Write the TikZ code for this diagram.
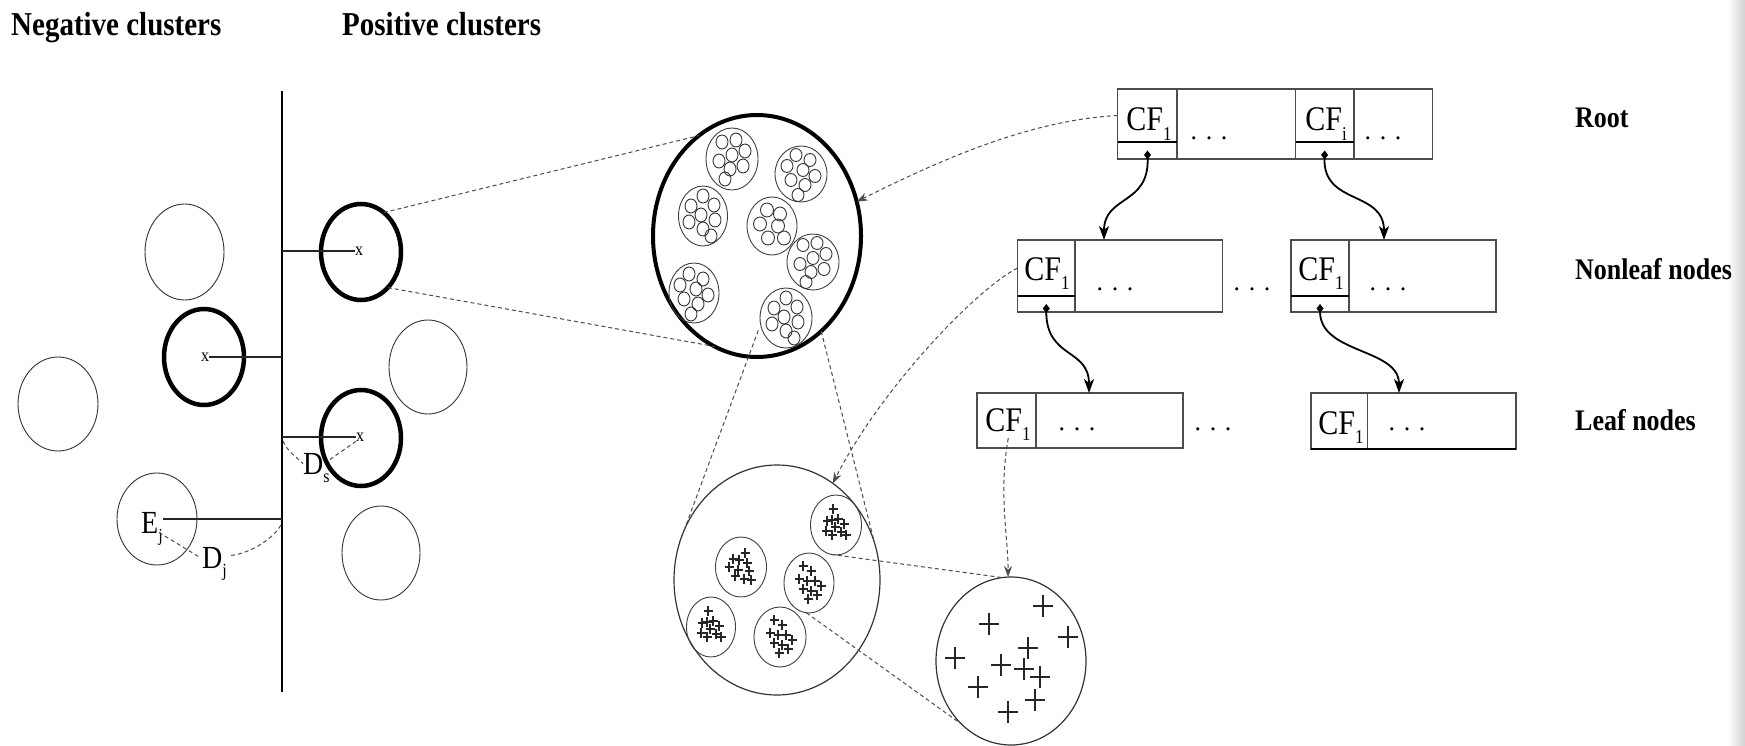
\documentclass[tikz,border=0pt]{standalone}
\usepackage{fontspec}
\setmainfont{Liberation Serif}
\usepackage{graphicx}
\usetikzlibrary{shapes.geometric,arrows.meta,calc}
\newcommand{\ys}[1]{\scalebox{1}[1.15]{#1}}
\newcommand{\circpatA}{-10/-17, 4/-19, 13/-8, 0/-4, -13/2, 11/7, -2/10, -7/20}
\newcommand{\circpatB}{-5/-19, 9/-14, -14/-8, 2/-4, 14/2, -10/6, 4/11, -3/21}
\newcommand{\circpatC}{0/-20, -12/-10, 11/-11, -2/-1, -14/6, 12/4, 0/13, 8/20}
\newcommand{\plpatA}{-3/-16/1.6, -9/-4/1.2, -4/-5/1.8, 2/-6/1.2, 8/-1/1.6, -1/2/1.2, -10/6/1.8, 5/7/1.2, -4/10/1.2, 10/10/1.2}
\newcommand{\plpatB}{4/-14/1.2, -8/-8/1.2, -2/-7/1.8, 6/-4/1.2, -12/0/1.8, -3/3/1.2, 8/4/1.6, -6/9/1.2, 3/12/1.8, 10/13/1.2}
\newcommand{\plpatC}{-6/-17/1.2, 2/-12/1.8, -10/-4/1.2, -2/-2/1.8, 6/-2/1.6, 12/3/1.2, -6/6/1.2, 2/8/1.8, 8/12/1.6, -1/16/1.2}
\begin{document}
\begin{tikzpicture}[x=1pt,y=-1pt,
  cthin/.style={ellipse,draw=black!80,line width=0.9pt,inner sep=0pt,outer sep=0pt,minimum width=79pt,minimum height=94pt},
  cthick/.style={ellipse,draw=black,line width=4.5pt,inner sep=0pt,outer sep=0pt,minimum width=80pt,minimum height=96pt},
  sub/.style={ellipse,draw=black!75,line width=0.9pt,inner sep=0pt,outer sep=0pt,minimum width=51pt,minimum height=60pt},
  dsh/.style={draw=black!70,line width=1pt,dash pattern=on 4pt off 3pt},
  darr/.style={dsh,-{Stealth[length=11pt,width=8pt]}},
  cell/.style={draw=black!70,line width=1.2pt,inner sep=0pt,outer sep=0pt,anchor=north west},
  divl/.style={draw=black,line width=1.8pt},
  treearr/.style={draw=black,line width=1.8pt,{Diamond[length=9pt,width=7pt]}-{Stealth[length=14pt,width=10pt,inset=4pt]}},
  hdr/.style={anchor=base west,inner sep=0pt,font=\fontsize{29}{33}\selectfont\bfseries},
  lvl/.style={anchor=base west,inner sep=0pt,font=\fontsize{26}{30}\selectfont\bfseries},
  cft/.style={anchor=base,inner sep=0pt,font=\fontsize{30}{34}\selectfont},
  dots/.style={anchor=base,inner sep=0pt,font=\fontsize{26}{30}\selectfont},
  lab/.style={anchor=base west,inner sep=0pt,font=\fontsize{28}{32}\selectfont},
  xm/.style={inner sep=0pt,font=\fontsize{16}{18}\selectfont},
  hl/.style={draw=black!85,line width=1.3pt}
]
\useasboundingbox (0,0) rectangle (1745,746);
\fill[white] (0,0) rectangle (1745,746);
\shade[left color=white,right color=black!18] (1728,0) rectangle (1745,746);

% headers
\node[hdr] (neg) at (11,36) {\ys{Negative clusters}};
\node[hdr] (pos) at (342,36) {\ys{Positive clusters}};
\node[lvl] (lroot) at (1575,128) {\ys{Root}};
\node[lvl] (lnon) at (1575,279) {\ys{Nonleaf nodes}};
\node[lvl] (lleaf) at (1575,430) {\ys{Leaf nodes}};

% separating line
\coordinate (vtop) at (282,91);
\coordinate (vbot) at (282,692);
\draw[black,line width=1.8pt] (vtop) -- (vbot);

% left-side clusters
\node[cthin,minimum width=79pt,minimum height=96pt] (nA) at (184.5,252) {};
\node[cthick] (nB) at (204,357) {};
\node[cthin,minimum width=80pt,minimum height=94pt] (nC) at (58,404) {};
\node[cthin,minimum width=80pt,minimum height=92pt] (nE) at (157,519) {};
\node[cthick] (p1) at (361,252) {};
\node[cthin,minimum width=78pt,minimum height=94pt] (pR) at (428,367) {};
\node[cthick] (p2) at (361,438) {};
\node[cthin,minimum width=78pt,minimum height=94pt] (pB) at (381,553) {};

\node[xm] (xB) at (205,357) {\ys{x}};
\node[xm] (xP1) at (359,251) {\ys{x}};
\node[xm] (xP2) at (360,437) {\ys{x}};
\draw[hl] (xB.east) -- (vtop |- xB);
\draw[hl] (vtop |- xP1) -- (xP1.west);
\draw[hl] (vtop |- xP2) -- (xP2.west);

\node[lab] (ds) at (303,474) {\ys{D\raisebox{-7pt}{\fontsize{16}{16}\selectfont s}}};
\node[lab] (ej) at (141,533) {\ys{E\raisebox{-7pt}{\fontsize{16}{16}\selectfont j}}};
\node[lab] (dj) at (202,568) {\ys{D\raisebox{-7pt}{\fontsize{16}{16}\selectfont j}}};
\draw[hl] (ej.east |- nE.center) -- (vtop |- nE.center);
\draw[dsh] ($(vtop |- xP2)+(1,4)$) .. controls +(4,10) and +(-6,-6) .. ($(ds.west)+(0,-4)$);
\draw[dsh] ($(ds.east)+(0,-8)$) -- (xP2.south west);
\draw[dsh] ($(ej.east)+(-4,4)$) -- ($(dj.west)+(-2,-6)$);
\draw[dsh] ($(dj.east)+(4,-8)$) .. controls +(20,-2) and +(-4,14) .. ($(vtop |- nE.center)+(0,3)$);

% big cluster (thick)
\node[ellipse,draw=black,line width=4pt,inner sep=0pt,outer sep=0pt,minimum width=208pt,minimum height=242pt] (big) at (757,236) {};
\node[sub,minimum width=52pt,minimum height=62pt] (k1) at (732,159) {};
\node[sub,minimum width=52pt,minimum height=56pt] (k2) at (801,174) {};
\node[sub,minimum width=49pt,minimum height=60pt] (k3) at (703,216) {};
\node[sub,minimum width=50pt,minimum height=58pt] (k4) at (772,226) {};
\node[sub,minimum width=52pt,minimum height=56pt] (k5) at (813,262) {};
\node[sub,minimum width=50pt,minimum height=60pt] (k6) at (694,293) {};
\node[sub,minimum width=52pt,minimum height=60pt] (k7) at (786,318) {};
\begin{scope}[draw=black!80,line width=0.9pt]
\begin{scope}[shift={(732,159)}]\foreach \a/\b in \circpatA {\draw (\a,\b) ellipse [x radius=6,y radius=7];}\end{scope}
\begin{scope}[shift={(801,174)}]\foreach \a/\b in \circpatB {\draw (\a,\b) ellipse [x radius=6,y radius=6.5];}\end{scope}
\begin{scope}[shift={(703,216)}]\foreach \a/\b in \circpatC {\draw (\a,\b) ellipse [x radius=6,y radius=7];}\end{scope}
\begin{scope}[shift={(772,226)}]\foreach \a/\b in {-5/-16, 8/-12, -12/-2, 6/0, -4/12, 12/12} {\draw (\a,\b) ellipse [x radius=6.5,y radius=7];}\end{scope}
\begin{scope}[shift={(813,262)}]\foreach \a/\b in \circpatA {\draw (\a,\b) ellipse [x radius=6,y radius=6.5];}\end{scope}
\begin{scope}[shift={(694,293)}]\foreach \a/\b in \circpatB {\draw (\a,\b) ellipse [x radius=6,y radius=7];}\end{scope}
\begin{scope}[shift={(786,318)}]\foreach \a/\b in \circpatC {\draw (\a,\b) ellipse [x radius=6,y radius=7];}\end{scope}
\end{scope}

% middle cluster
\node[ellipse,draw=black!80,line width=1.2pt,inner sep=0pt,outer sep=0pt,minimum width=206pt,minimum height=230pt] (mid) at (777,580) {};
\node[sub] (m1) at (836,525) {};
\node[sub] (m2) at (741,567) {};
\node[sub,minimum width=50pt] (m3) at (809,583) {};
\node[sub,minimum width=49pt] (m4) at (711,627) {};
\node[sub,minimum width=52pt] (m5) at (780,637) {};
\begin{scope}[draw=black!85]
\begin{scope}[shift={(836,525)}]\foreach \a/\b/\w in \plpatA {\draw[line width=\w pt] (\a,\b) +(-4.5,0) -- +(4.5,0) +(0,-5) -- +(0,5);}\end{scope}
\begin{scope}[shift={(741,567)}]\foreach \a/\b/\w in \plpatB {\draw[line width=\w pt] (\a,\b) +(-4.5,0) -- +(4.5,0) +(0,-5) -- +(0,5);}\end{scope}
\begin{scope}[shift={(809,583)}]\foreach \a/\b/\w in \plpatC {\draw[line width=\w pt] (\a,\b) +(-4.5,0) -- +(4.5,0) +(0,-5) -- +(0,5);}\end{scope}
\begin{scope}[shift={(711,627)}]\foreach \a/\b/\w in \plpatA {\draw[line width=\w pt] (\a,\b) +(-4.5,0) -- +(4.5,0) +(0,-5) -- +(0,5);}\end{scope}
\begin{scope}[shift={(780,637)}]\foreach \a/\b/\w in \plpatC {\draw[line width=\w pt] (\a,\b) +(-4.5,0) -- +(4.5,0) +(0,-5) -- +(0,5);}\end{scope}
\end{scope}

% small cluster
\node[ellipse,draw=black!80,line width=1.2pt,inner sep=0pt,outer sep=0pt,minimum width=150pt,minimum height=168pt] (small) at (1011,661) {};
\begin{scope}[draw=black!85]
\foreach \a/\b/\w in {1043/606/2, 989/624/1.2, 1068/637/2, 1028/648/2, 955/658/2, 1001/665/1.2, 1024/669/2, 1040/677/1.2, 978/687/2, 1035/700/1.4, 1008/712/2}
  {\draw[line width=\w pt] (\a,\b) +(-10,0) -- +(10,0) +(0,-11) -- +(0,11);}
\end{scope}

% zoom lines
\draw[dsh] (p1.60) -- (big.120);
\draw[dsh] (p1.-53) -- (big.-111);
\draw[dsh,shorten <=-28pt] (big.-94) -- (mid.158);
\draw[dsh] (big.-56) -- (mid.21);
\draw[dsh] (m1.-100) -- (small.96);
\draw[dsh] (m3.-95) -- (small.232);

% tree: root
\node[cell,minimum width=59.3pt,minimum height=53pt] (r1) at (1117.7,89) {};
\node[cell,minimum width=59.3pt,minimum height=17pt] (r1b) at (1117.7,142) {};
\node[cell,minimum width=118.5pt,minimum height=70pt] (r2) at (1177,89) {};
\node[cell,minimum width=58.5pt,minimum height=53pt] (r3) at (1295.5,89) {};
\node[cell,minimum width=58.5pt,minimum height=17pt] (r3b) at (1295.5,142) {};
\node[cell,minimum width=78.5pt,minimum height=70pt] (r4) at (1354,89) {};
\draw[divl] (r1.south west) -- (r1.south east);
\draw[divl] (r3.south west) -- (r3.south east);
\node[cft] (tr1) at (1149,131) {\ys{CF\raisebox{-8pt}{\fontsize{17}{17}\selectfont 1}}};
\node[cft] (tr3) at (1326,131) {\ys{CF\raisebox{-8pt}{\fontsize{17}{17}\selectfont i}}};
\node[dots] (dr2) at (1209,140) {. . .};
\node[dots] (dr4) at (1383,140) {. . .};

% nonleaf
\node[cell,minimum width=57.5pt,minimum height=56pt] (n1a) at (1017.5,240) {};
\node[cell,minimum width=57.5pt,minimum height=16pt] (n1b) at (1017.5,296) {};
\node[cell,minimum width=147.5pt,minimum height=72pt] (n1c) at (1075,240) {};
\node[cell,minimum width=58pt,minimum height=56pt] (n2a) at (1291,240) {};
\node[cell,minimum width=58pt,minimum height=16pt] (n2b) at (1291,296) {};
\node[cell,minimum width=147pt,minimum height=72pt] (n2c) at (1349,240) {};
\draw[divl] (n1a.south west) -- (n1a.south east);
\draw[divl] (n2a.south west) -- (n2a.south east);
\node[cft] (tn1) at (1047,280) {\ys{CF\raisebox{-8pt}{\fontsize{17}{17}\selectfont 1}}};
\node[cft] (tn2) at (1321,280) {\ys{CF\raisebox{-8pt}{\fontsize{17}{17}\selectfont 1}}};
\node[dots] (dn1) at (1115,290) {. . .};
\node[dots] (dnm) at (1252,290) {. . .};
\node[dots] (dn2) at (1388,290) {. . .};

% leaf
\node[cell,minimum width=59pt,minimum height=55pt] (l1a) at (977,393) {};
\node[cell,minimum width=147pt,minimum height=55pt] (l1c) at (1036,393) {};
\node[cell,minimum width=56.5pt,minimum height=56pt] (l2a) at (1311,393) {};
\node[cell,minimum width=148.5pt,minimum height=56pt] (l2c) at (1367.5,393) {};
\draw[divl,line width=1.5pt] (l2a.south west) -- (l2c.south east);
\node[cft] (tl1) at (1008,431) {\ys{CF\raisebox{-8pt}{\fontsize{17}{17}\selectfont 1}}};
\node[cft] (tl2) at (1341,434) {\ys{CF\raisebox{-8pt}{\fontsize{17}{17}\selectfont 1}}};
\node[dots] (dl1) at (1077,430) {. . .};
\node[dots] (dlm) at (1213,430) {. . .};
\node[dots] (dl2) at (1407,430) {. . .};

% tree arrows
\draw[treearr] (r1b.center) .. controls +(2,55) and +(0,-45) .. ($(n1c.north west)+(29,0)$);
\draw[treearr] (r3b.center) .. controls +(-2,55) and +(0,-50) .. ($(n2c.north west)+(35,0)$);
\draw[treearr] (n1b.center) .. controls +(0,55) and +(0,-45) .. ($(l1c.north west)+(53,0)$);
\draw[treearr] (n2b.center) .. controls +(0,50) and +(0,-45) .. ($(l2c.north west)+(31.5,0)$);

% dashed pointers
\draw[darr] (r1.west) .. controls (1030,120) and (940,160) .. (big.19);
\draw[darr] (n1a.west) .. controls (975,290) and (880,390) .. (mid.60);
\draw[darr,shorten <=-10pt] (l1a.south) .. controls +(-8,45) and +(0,-40) .. (small.92);
\end{tikzpicture}
\end{document}
